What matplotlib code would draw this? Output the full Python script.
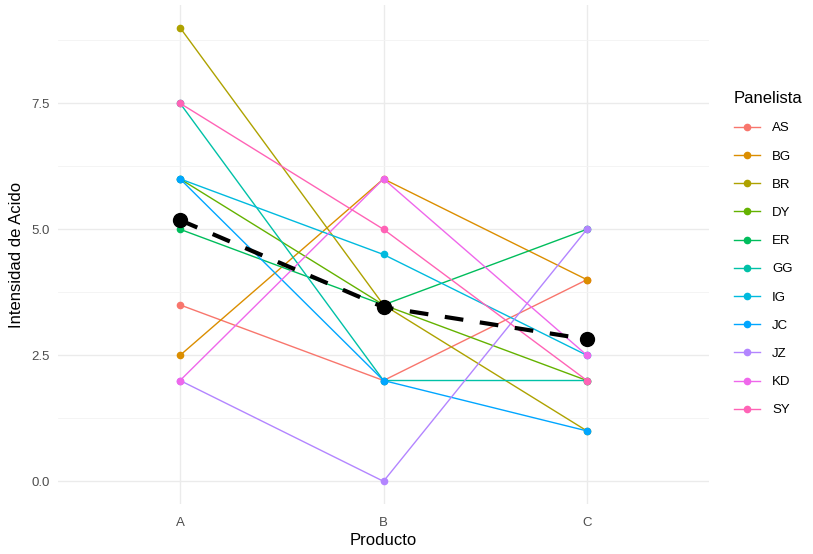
import matplotlib
matplotlib.use("Agg")
import matplotlib.pyplot as plt
import numpy as np

plt.rcParams['font.family'] = ['Liberation Sans', 'DejaVu Sans']

productos = ["A", "B", "C"]
panelistas = ["AS", "BG", "BR", "DY", "ER", "GG", "IG", "JC", "JZ", "KD", "SY"]
AS = [3.5, 2.0, 4.0]
BG = [2.5, 6.0, 4.0]
BR = [9.0, 3.5, 1.0]
DY = [6.0, 3.5, 2.0]
ER = [5.0, 3.5, 5.0]
GG = [7.5, 2.0, 2.0]
IG = [6.0, 4.5, 2.5]
JC = [6.0, 2.0, 1.0]
JZ = [2.0, 0.0, 5.0]
KD = [2.0, 6.0, 2.5]
SY = [7.5, 5.0, 2.0]
series = [AS, BG, BR, DY, ER, GG, IG, JC, JZ, KD, SY]
colores = ["#F8766D", "#DB8E00", "#AEA200", "#64B200", "#00BD5C", "#00C1A7",
           "#00BADE", "#00A6FF", "#B385FF", "#EF67EB", "#FF63B6"]
y_ticks = [0.0, 2.5, 5.0, 7.5]
y_ticklabels = ["0.0", "2.5", "5.0", "7.5"]

fig = plt.figure(figsize=(8.13, 5.54), dpi=100)
ax = fig.add_axes([58/813, 50/554, 651/813, 499/554])

x = np.arange(len(productos))
for name, vals, col in zip(panelistas, series, colores):
    ax.plot(x, vals, color=col, lw=1.0, marker="o", ms=4.5, label=name, zorder=3)

media = np.mean(np.array(series), axis=0)
ax.plot(x, media, color="black", lw=3, ls=(0, (4.5, 4)), zorder=4)
ax.plot(x, media, color="black", lw=0, marker="o", ms=10, zorder=5)

ax.set_xlim(-0.6, 2.6)
ax.set_ylim(-0.45, 9.45)
ax.set_xticks(x)
ax.set_xticklabels(productos)
ax.set_yticks(y_ticks)
ax.set_yticklabels(y_ticklabels)
ax.set_yticks([1.25, 3.75, 6.25, 8.75], minor=True)
ax.grid(True, which="major", color="#EBEBEB", lw=1.0)
ax.grid(True, which="minor", axis="y", color="#F3F3F3", lw=0.6)
ax.set_axisbelow(True)
for s in ax.spines.values():
    s.set_visible(False)
ax.tick_params(axis="y", which="both", length=0, labelsize=9.5, labelcolor="#4D4D4D", pad=6)
ax.tick_params(axis="x", which="both", length=0, labelsize=9.5, labelcolor="#4D4D4D", pad=9)
ax.set_xlabel("Producto", fontsize=12, color="black", labelpad=3)
ax.set_ylabel("Intensidad de Acido", fontsize=12, color="black", labelpad=5)

leg = ax.legend(title="Panelista", loc="upper left", bbox_to_anchor=(1.02, 0.851),
                frameon=False, fontsize=9.5, title_fontsize=12, handlelength=2.0,
                labelspacing=1.21, handletextpad=0.9)
leg._legend_box.align = "left"

fig.savefig("out.png", dpi=100)
